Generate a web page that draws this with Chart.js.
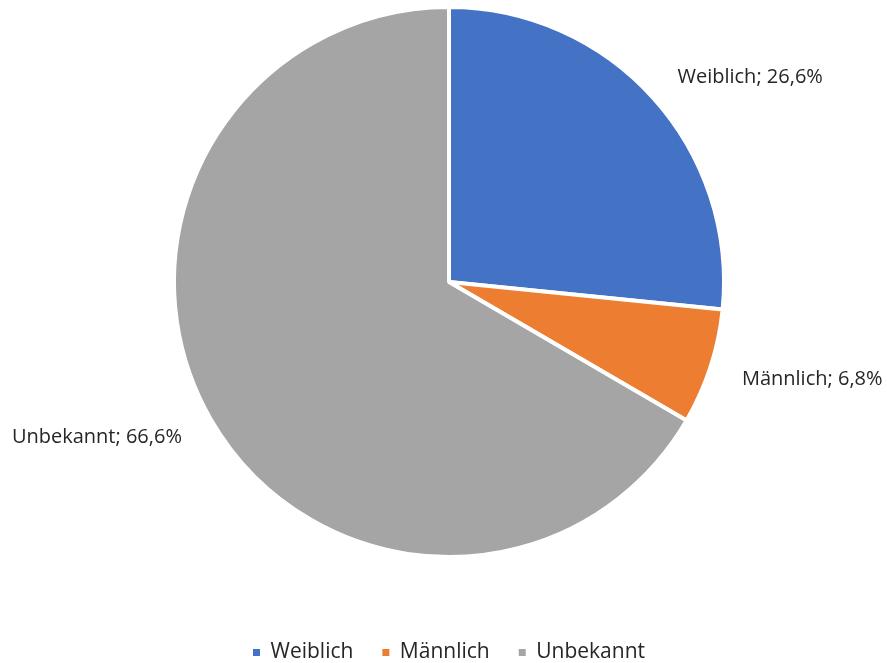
<!DOCTYPE html>
<html lang="de">
<head>
<meta charset="utf-8">
<title>Geschlecht</title>
<script src="https://cdn.jsdelivr.net/npm/chart.js@4.4.1/dist/chart.umd.min.js"></script>
<style>
  html, body { margin: 0; padding: 0; background: #fff; }
  canvas { display: block; }
</style>
</head>
<body>
<canvas id="gender-canvas" width="887" height="663"></canvas>
<script>
const categories = ['Weiblich', 'Männlich', 'Unbekannt'];
const shares = [26.6, 6.8, 66.6];
const sliceColors = ['#4472C4', '#ED7D31', '#A5A5A5'];

const TEXT_COLOR = '#262626';
const FONT_FAMILY = '"Open Sans", "Noto Sans", sans-serif';
const LABEL_SIZE = 20;
const LEGEND_SIZE = 21;

function formatShare(v) {
  return v.toFixed(1).replace('.', ',') + '%';
}

// "Name; 12,3%" labels just outside each slice
const outsideLabels = {
  id: 'outsideLabels',
  afterDatasetsDraw(chart) {
    const ctx = chart.ctx;
    const meta = chart.getDatasetMeta(0);
    ctx.save();
    ctx.font = LABEL_SIZE + 'px ' + FONT_FAMILY;
    ctx.fillStyle = TEXT_COLOR;
    ctx.textBaseline = 'middle';
    meta.data.forEach((arc, i) => {
      const { x, y, startAngle, endAngle, outerRadius } = arc.getProps(['x', 'y', 'startAngle', 'endAngle', 'outerRadius'], true);
      const mid = (startAngle + endAngle) / 2;
      const dist = outerRadius + 33;
      const px = x + Math.cos(mid) * dist;
      const py = y + Math.sin(mid) * dist + 2;
      ctx.textAlign = Math.cos(mid) >= 0 ? 'left' : 'right';
      ctx.fillText(categories[i] + '; ' + formatShare(shares[i]), px, py);
    });
    ctx.restore();
  }
};

const pieLegendLabels = Chart.overrides.pie.plugins.legend.labels.generateLabels;

const canvas = document.getElementById('gender-canvas');
new Chart(canvas.getContext('2d'), {
  type: 'pie',
  data: {
    labels: categories,
    datasets: [{
      data: shares,
      backgroundColor: sliceColors,
      borderColor: '#ffffff',
      borderWidth: 4,
    }],
  },
  options: {
    responsive: false,
    animation: false,
    layout: { padding: { top: 5, left: 11, right: 0, bottom: 0 } },
    plugins: {
      tooltip: { enabled: false },
      legend: {
        position: 'bottom',
        maxHeight: 104,
        // empty title only pushes the legend row down
        title: {
          display: true,
          text: '',
          font: { size: 1, lineHeight: 1 },
          padding: { top: 53, bottom: 0 },
        },
        labels: {
          boxWidth: 7,
          boxHeight: 7,
          padding: 29,
          color: TEXT_COLOR,
          font: { family: FONT_FAMILY, size: LEGEND_SIZE },
          // plain filled squares, without the white slice border
          generateLabels: (chart) => pieLegendLabels(chart).map(item => ({ ...item, lineWidth: 0 })),
        },
      },
    },
  },
  plugins: [outsideLabels],
});
</script>
</body>
</html>
